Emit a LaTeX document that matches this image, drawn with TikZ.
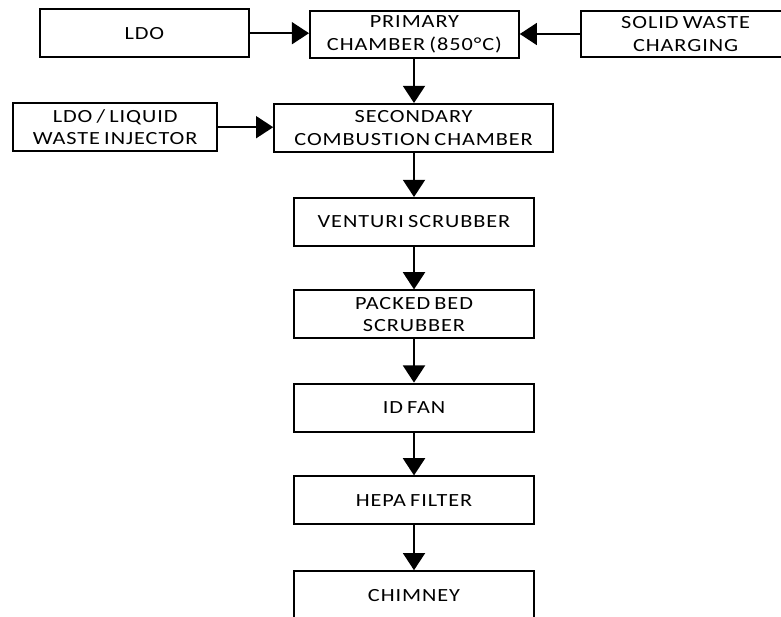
\documentclass[tikz,border=0pt]{standalone}
\usepackage{fontspec}
\setmainfont{Carlito}[FakeStretch=1.2, LetterSpace=5, WordSpace=0.7]
\usetikzlibrary{arrows.meta}

\begin{document}
\begin{tikzpicture}[
    every node/.style={font=\fontsize{13.2}{16}\selectfont},
    unit/.style={
        rectangle,
        draw,
        line width=1.4pt,
        minimum width=5.22cm,
        minimum height=1.2cm,
        inner sep=0pt,
        align=center
    },
    flow/.style={
        -{Triangle[width=0.55cm,length=0.43cm]},
        line width=1.4pt
    }
]
\useasboundingbox (0,0) rectangle (19.525,-15.425);

% Alimentazione
\node[unit] (ldo) at (3.61,-0.83) {LDO};
\node[unit, minimum height=1.18cm] (primary) at (10.36,-0.86) {PRIMARY\\CHAMBER (850°C)};
\node[unit, minimum height=1.15cm] (solid) at (17.14,-0.85) {SOLID WASTE\\CHARGING};
\node[unit, minimum width=5.1cm] (injector) at (2.88,-3.18) {LDO / LIQUID\\WASTE INJECTOR};

% Linea fumi
\node[unit, minimum width=6.97cm] (secondary) at (10.34,-3.2) {SECONDARY\\COMBUSTION CHAMBER};
\node[unit, minimum width=6cm] (venturi) at (10.35,-5.55) {VENTURI SCRUBBER};
\node[unit, minimum width=6cm] (packed) at (10.35,-7.86) {PACKED BED\\SCRUBBER};
\node[unit, minimum width=6cm] (idfan) at (10.35,-10.19) {ID FAN};
\node[unit, minimum width=6cm] (hepa) at (10.35,-12.51) {HEPA FILTER};
\node[unit, minimum width=6cm] (chimney) at (10.35,-14.88) {CHIMNEY};

% Ingressi laterali
\draw[flow] (ldo.east) -- (ldo.east -| primary.west);
\draw[flow] (solid.west) -- (solid.west -| primary.east);
\draw[flow] (injector.east) -- (injector.east -| secondary.west);

% Sequenza verticale
\draw[flow] (primary.south -| venturi.north) -- (venturi.north |- secondary.north);
\draw[flow] (secondary.south -| venturi.north) -- (venturi.north);
\draw[flow] (venturi) -- (packed);
\draw[flow] (packed) -- (idfan);
\draw[flow] (idfan) -- (hepa);
\draw[flow] (hepa) -- (chimney);

\end{tikzpicture}
\end{document}
